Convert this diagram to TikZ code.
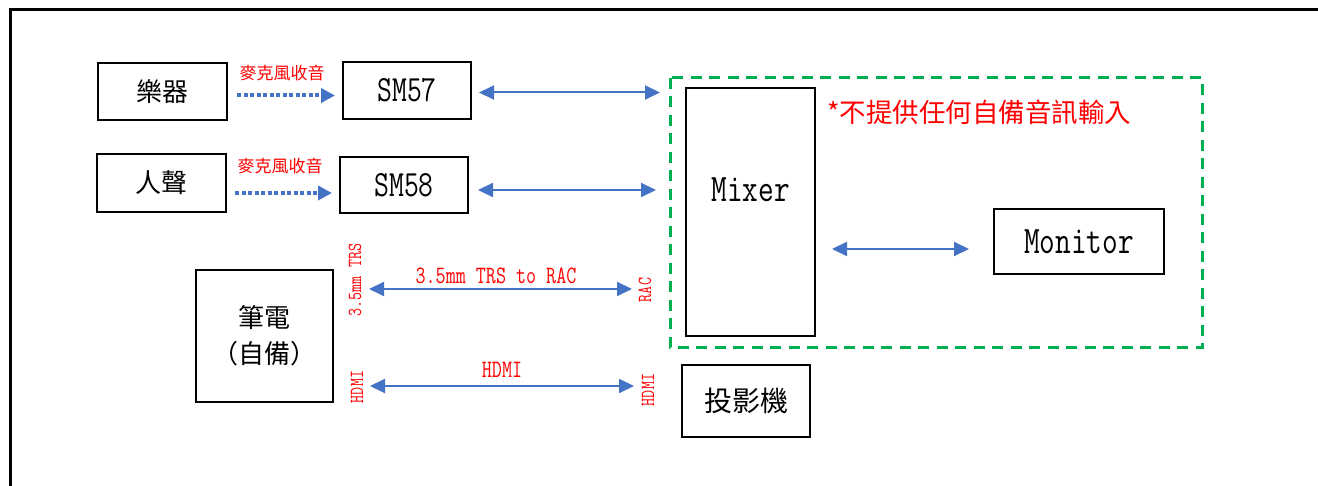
\documentclass[tikz,border=0pt]{standalone}
\usepackage{fontspec}
\newfontfamily\cjk{Noto Sans CJK TC}
\newfontfamily\lat[FakeStretch=0.78]{Latin Modern Mono}
\usetikzlibrary{arrows.meta}
\definecolor{ablue}{HTML}{4472C4}
\definecolor{agreen}{HTML}{00B050}
\definecolor{ared}{HTML}{FF0000}
\begin{document}
\begin{tikzpicture}[x=1pt,y=-1pt,
  box/.style={draw=black, line width=2pt, inner sep=0pt, fill=white},
  cjkbox/.style={box, font=\cjk\fontsize{26}{30}\selectfont},
  latbox/.style={box, font=\lat\fontsize{37}{40}\selectfont},
  biarrow/.style={draw=ablue, line width=2pt, {Triangle[length=15pt,width=14pt]}-{Triangle[length=15pt,width=14pt]}},
  micarrow/.style={draw=ablue, line width=4pt, dash pattern=on 4pt off 2.5pt, -{Triangle[length=14pt,width=14pt]}},
  redcjk/.style={text=ared, inner sep=0pt, font=\cjk\fontsize{17}{20}\selectfont},
  redlat/.style={text=ared, inner sep=0pt, font=\lat\fontsize{25}{28}\selectfont},
  redvert/.style={text=ared, inner sep=0pt, rotate=90, font=\lat\fontsize{20}{22}\selectfont}
]
\useasboundingbox (0,0) rectangle (1318,486);
% frame
\draw[line width=3pt] (10,500) -- (10,10) -- (1330,10);
% green dashed region
\draw[agreen, line width=3pt, dash pattern=on 11pt off 7.5pt] (670,78) rectangle (1202,348);

% nodes
\node[cjkbox, minimum width=129pt, minimum height=57pt] (yue) at (162.5,91.5) {樂器};
\node[cjkbox, minimum width=129pt, minimum height=58pt] (ren) at (161.5,183) {人聲};
\node[latbox, minimum width=128pt, minimum height=57pt] (sm57) at (407,90.5) {SM57};
\node[latbox, minimum width=128pt, minimum height=56pt] (sm58) at (404,185) {SM58};
\node[box, minimum width=129pt, minimum height=248pt] (mixer) at (750.5,212) {};
\node[inner sep=0pt, font=\lat\fontsize{39}{42}\selectfont] (mixertext) at (750.5,190) {Mixer};
\node[latbox, minimum width=170pt, minimum height=65pt, font=\lat\fontsize{39}{42}\selectfont] (monitor) at (1079,241.5) {Monitor};
\node[cjkbox, line width=2.5pt, minimum width=137pt, minimum height=132pt, align=center] (laptop) at (264.5,336) {筆電\\[6pt]（自備）};
\node[cjkbox, line width=2.5pt, minimum width=128pt, minimum height=72pt, font=\cjk\fontsize{28}{30}\selectfont] (proj) at (746,401) {投影機};

\node[text=ared, inner sep=0pt, anchor=west, font=\cjk\fontsize{26.5}{30}\selectfont] (note) at (827,112) {*不提供任何自備音訊輸入};

% mic arrows
\draw[micarrow, shorten <=9pt, shorten >=7pt] ([yshift=-4pt]yue.east) -- ([yshift=-4pt]yue.east -| sm57.west);
\node[redcjk] (lbl1) at (282,73) {麥克風收音};
\draw[micarrow, shorten <=8pt, shorten >=7pt] ([yshift=-10pt]ren.east) -- ([yshift=-10pt]ren.east -| sm58.west);
\node[redcjk] (lbl2) at (280,166) {麥克風收音};

% bidirectional arrows to mixer
\draw[biarrow, shorten <=7pt, shorten >=25pt] ([yshift=-2pt]sm57.east) -- ([yshift=-2pt]sm57.east -| mixer.west);
\draw[biarrow, shorten <=9pt, shorten >=29pt] ([yshift=-5pt]sm58.east) -- ([yshift=-5pt]sm58.east -| mixer.west);
\draw[biarrow, shorten <=16pt, shorten >=24pt] ([yshift=-7.5pt]monitor.west -| mixer.east) -- ([yshift=-7.5pt]monitor.west);

% laptop connections
\node[redvert] (trsl) at (355,280) {3.5mm TRS};
\node[redvert] (racr) at (645,290) {RAC};
\coordinate (trsa) at (369,289);
\coordinate (trsb) at (632,289);
\draw[biarrow] (trsa) -- (trsb);
\node[redlat] (trslbl) at (496,276) {3.5mm TRS to RAC};

\node[redvert] (hdmil) at (357,387) {HDMI};
\node[redvert] (hdmir) at (648,390) {HDMI};
\coordinate (hdmia) at (370,386);
\coordinate (hdmib) at (634,386);
\draw[biarrow] (hdmia) -- (hdmib);
\node[redlat] (hdmilbl) at (502,370) {HDMI};
\end{tikzpicture}
\end{document}
